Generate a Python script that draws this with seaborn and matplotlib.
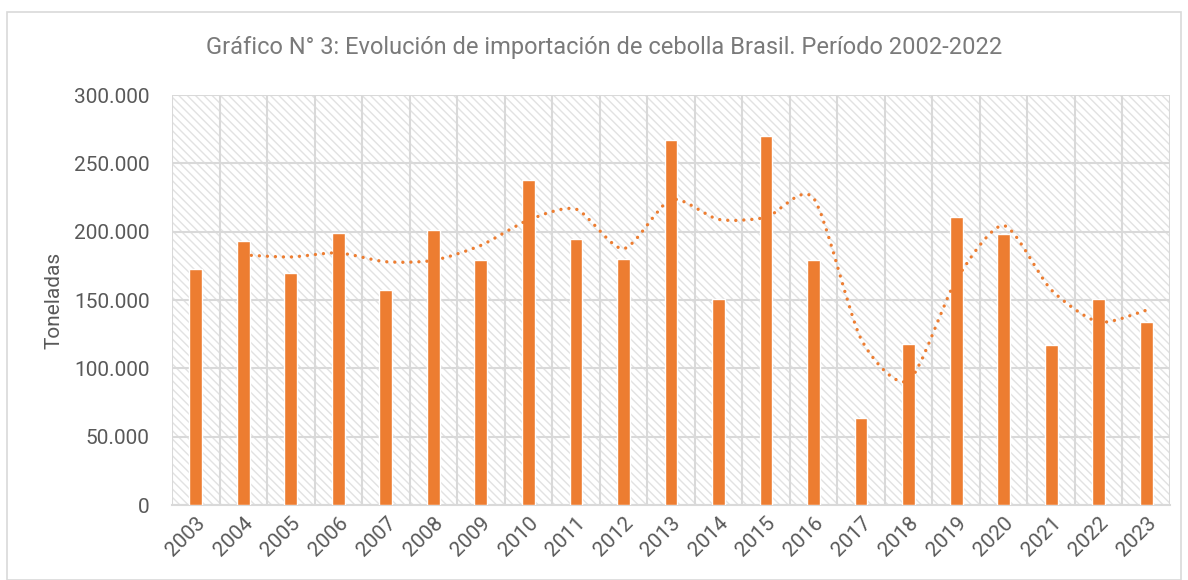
import numpy as np
import pandas as pd
import matplotlib
matplotlib.use("Agg")
import matplotlib.pyplot as plt
from matplotlib.patches import Rectangle, PathPatch
from matplotlib.path import Path
from matplotlib.ticker import FuncFormatter, MultipleLocator
import seaborn as sns

# ------------------------------------------------------------
# DATA
# ------------------------------------------------------------
years = ["2003", "2004", "2005", "2006", "2007", "2008", "2009", "2010",
         "2011", "2012", "2013", "2014", "2015", "2016", "2017", "2018",
         "2019", "2020", "2021", "2022", "2023"]
tonnes = [173000, 193000, 170000, 199000, 157000, 201000, 179000, 238000,
          195000, 180000, 267000, 151000, 270000, 179000, 64000, 118000,
          211000, 198000, 117000, 151000, 134000]
# dotted trend line (2-period moving average, starts at 2004)
trend_years = years[1:]
trend = [183000, 181500, 184500, 178000, 179000, 190000, 208500, 216500,
         187500, 223500, 209000, 210500, 224500, 121500, 91000, 164500,
         204500, 157500, 134000, 142500]

TITLE = "Gráfico N° 3: Evolución de importación de cebolla Brasil. Período 2002-2022"
ORANGE = "#ED7D31"
GRAY_TXT = "#595959"
TITLE_TXT = "#7a7a7a"
GRID = "#d9d9d9"

sns.set_theme(style="white")
plt.rcParams["font.family"] = ["Roboto", "DejaVu Sans"]

df = pd.DataFrame({"year": years, "tonnes": tonnes})

fig = plt.figure(figsize=(11.88, 5.8), dpi=100)
ax = fig.add_axes([0.1448, 0.1293, 0.8400, 0.7069])

# hatched plot-area background
bg = Rectangle((0, 0), 1, 1, transform=ax.transAxes, facecolor="white",
               edgecolor="#e2e2e2", linewidth=0, hatch="\\\\\\\\", zorder=0)
ax.add_patch(bg)
ax.patch.set_alpha(0)

sns.barplot(data=df, x="year", y="tonnes", color=ORANGE, saturation=1,
            width=0.27, ax=ax, zorder=3)

# smoothed dotted trend line (Bezier through the trend points)
pos = {y: i for i, y in enumerate(years)}
px = np.array([pos[y] for y in trend_years], dtype=float)
py = np.array(trend, dtype=float)
pts = np.column_stack([px, py])
ext = np.vstack([pts[0], pts, pts[-1]])
verts = [tuple(pts[0])]
codes = [Path.MOVETO]
for i in range(1, len(ext) - 2):
    p0, p1, p2, p3 = ext[i - 1], ext[i], ext[i + 1], ext[i + 2]
    c1 = p1 + (p2 - p0) / 8.0
    c2 = p2 - (p3 - p1) / 8.0
    verts += [tuple(c1), tuple(c2), tuple(p2)]
    codes += [Path.CURVE4] * 3
trend_patch = PathPatch(Path(verts, codes), fill=False, edgecolor=ORANGE,
                        linewidth=2.4, linestyle=(0, (0.01, 2.4)),
                        capstyle="round", zorder=4)
ax.add_patch(trend_patch)

# axes & grid
ax.set_xlim(-0.5, len(years) - 0.5)
ax.set_ylim(0, 300000)
ax.yaxis.set_major_locator(MultipleLocator(50000))
ax.yaxis.set_major_formatter(FuncFormatter(lambda v, p: f"{int(v):,}".replace(",", ".")))
ax.set_xticks(range(len(years)))
ax.set_xticks(np.arange(-0.5, len(years), 1.0), minor=True)
ax.grid(True, which="major", axis="y", color=GRID, linewidth=1.5, zorder=1)
ax.grid(True, which="minor", axis="x", color=GRID, linewidth=1.5, zorder=1)
ax.grid(False, which="major", axis="x")
ax.set_axisbelow(True)
for s in ["top", "right", "left"]:
    ax.spines[s].set_visible(False)
ax.spines["bottom"].set_color(GRID)
ax.spines["bottom"].set_linewidth(1.5)

ax.tick_params(axis="both", which="both", length=0, colors=GRAY_TXT, labelsize=15)
ax.tick_params(axis="y", pad=16)
ax.tick_params(axis="x", pad=6)
plt.setp(ax.get_xticklabels(), rotation=45, ha="right", rotation_mode="anchor")

ax.set_xlabel("")
ax.set_ylabel("Toneladas", fontsize=15, color=GRAY_TXT, labelpad=8)

fig.text(0.5085, 0.918, TITLE, ha="center", va="center", fontsize=17,
         color=TITLE_TXT)

# chart frame
fig.patches.append(Rectangle((0.006, 0.0), 0.988, 0.979, transform=fig.transFigure,
                             fill=False, edgecolor="#d9d9d9", linewidth=1.2))

fig.savefig("out.png", dpi=100)
